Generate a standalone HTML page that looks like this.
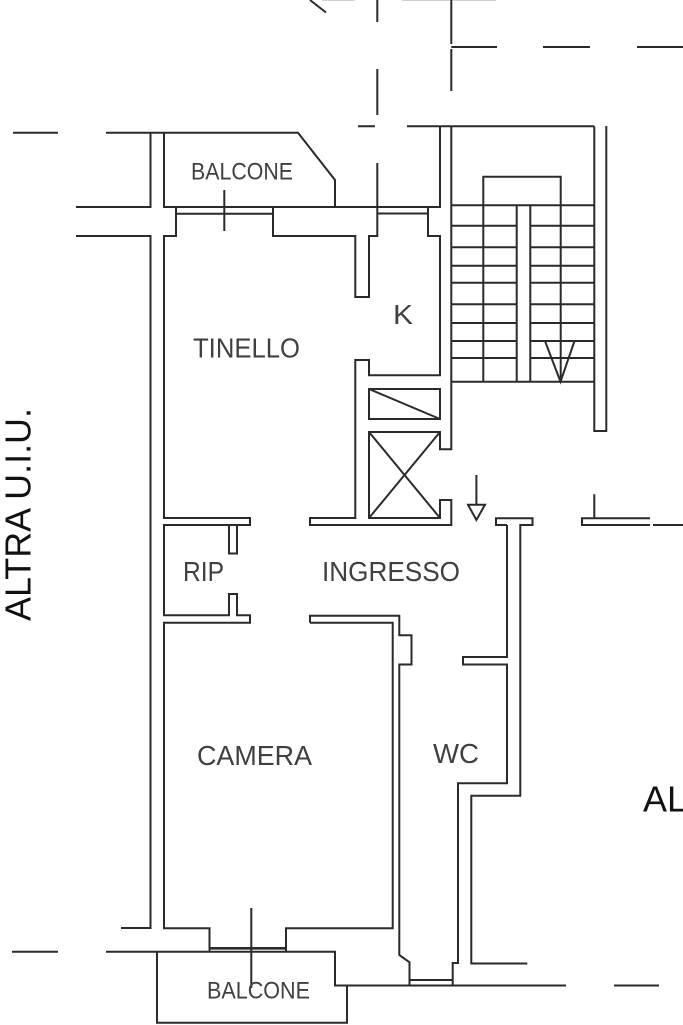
<!DOCTYPE html>
<html><head><meta charset="utf-8"><style>
html,body{margin:0;padding:0;background:#fff}
svg{display:block}
text{font-family:"Liberation Sans",sans-serif;fill:#404040}
</style></head><body>
<svg width="683" height="1025" viewBox="0 0 683 1025" xmlns="http://www.w3.org/2000/svg">
<defs><filter id="b" x="0" y="0" width="683" height="1025" filterUnits="userSpaceOnUse"><feGaussianBlur stdDeviation="0.35"/></filter></defs>
<rect width="683" height="1025" fill="#fff"/>
<g filter="url(#b)">
<path d="M322 0H355M402 0H496" fill="none" stroke="#c4c4c4" stroke-width="1.6"/>
<g fill="none" stroke="#2c2c2c" stroke-width="2">
<!-- dashes -->
<path d="M13 132.7H58M106 132.7H298L335 180V207"/>
<path d="M310 0L326 12.5M377.3 0V22M377.3 69V115M377.3 163V207M451.3 0V44M451.3 49V91M451.3 47H497M543 47H590M637 47H683"/>
<path d="M358 126.3H375M407 126.3H594.3"/>
<!-- upper walls -->
<path d="M150.5 133V207H76M164 133V207H440V126M76 236H150.5V928H121"/>
<path d="M176 207V236H164V518H250V525H229V553.5H237V525M229 525H164V615.3H229V594H237V615.3H250V622.7H164V928.3H209.5V951.7M176 213.7H273M273 207V236H355.3V297H369V236H377.3V207M377.3 213.5H428M428 207V236H440V375.3H369V360H355.3V518H310V525H451.3V500H440V518H369V432H440V449.3H451.3V126.3"/>
<path d="M369 389H440V419H369ZM369 389L440 419M369 432L440 518M440 432L369 518"/>
<!-- stairs -->
<path d="M594.3 126.3V431H606.3V126"/>
<path d="M451 205.3H594M483.3 381.7V176.7H560.7V381.7M516.7 205.3V381.7M530.3 205.3V381.7M451 381.7H594"/>
<path d="M451 225.7H516.7M530.3 225.7H594M451 247.3H516.7M530.3 247.3H594M451 265.7H516.7M530.3 265.7H594M451 282.7H516.7M530.3 282.7H594M451 304.3H516.7M530.3 304.3H594M451 323H516.7M530.3 323H594M451 341H516.7M530.3 341H594M451 358H516.7M530.3 358H594"/>
<path d="M545 341L560.5 381.7L574.5 341"/>
<!-- arrow -->
<path d="M476.4 475V504.7M468 504.7H485L476.4 520Z"/>
<!-- T wall -->
<path d="M507 525H496V518.2H532.5V525H520.3V795.7H471.3V963.5H527.3M507 525V657H463V664.5H507V783.3H458V963H452.7V985.5"/>
<path d="M594.3 494.3V518.2M650 518.2H582V525H650M653 525H683"/>
<!-- camera / bath -->
<path d="M310 622.7V615.8H399.3V635.3H411.5V664.5H399.3V955L409.5 962.3V985.5M310 622.7H392.7V928.3H286V951.7"/>
<path d="M409.5 980H452.7"/>
<path d="M209.5 948.3H286" stroke-width="2.6"/>
<!-- bottom -->
<path d="M12 951.7H58M106 951.7H335V985.5H566M614 985.5H659M157 951.7V1022.7H347V985.5"/>
<path d="M251.3 908V988"/>
<path d="M224.3 190V231"/>
</g>
</g>
<text x="191" y="179.5" font-size="24" textLength="102" lengthAdjust="spacingAndGlyphs">BALCONE</text>
<text x="193" y="357.5" font-size="28" textLength="107" lengthAdjust="spacingAndGlyphs">TINELLO</text>
<text x="393" y="324" font-size="28" textLength="20" lengthAdjust="spacingAndGlyphs">K</text>
<text x="183" y="581" font-size="28" textLength="41" lengthAdjust="spacingAndGlyphs">RIP</text>
<text x="322" y="581" font-size="28" textLength="138" lengthAdjust="spacingAndGlyphs">INGRESSO</text>
<text x="197" y="765" font-size="28" textLength="115" lengthAdjust="spacingAndGlyphs">CAMERA</text>
<text x="433" y="763" font-size="28" textLength="46" lengthAdjust="spacingAndGlyphs">WC</text>
<text x="207" y="998.5" font-size="24" textLength="103" lengthAdjust="spacingAndGlyphs">BALCONE</text>
<text transform="translate(30.5 621) rotate(-90)" font-size="36" textLength="213" lengthAdjust="spacingAndGlyphs" style="fill:#111">ALTRA U.I.U.</text>
<text x="643" y="811.5" font-size="36" style="fill:#111">AL</text>
</svg>
</body></html>
